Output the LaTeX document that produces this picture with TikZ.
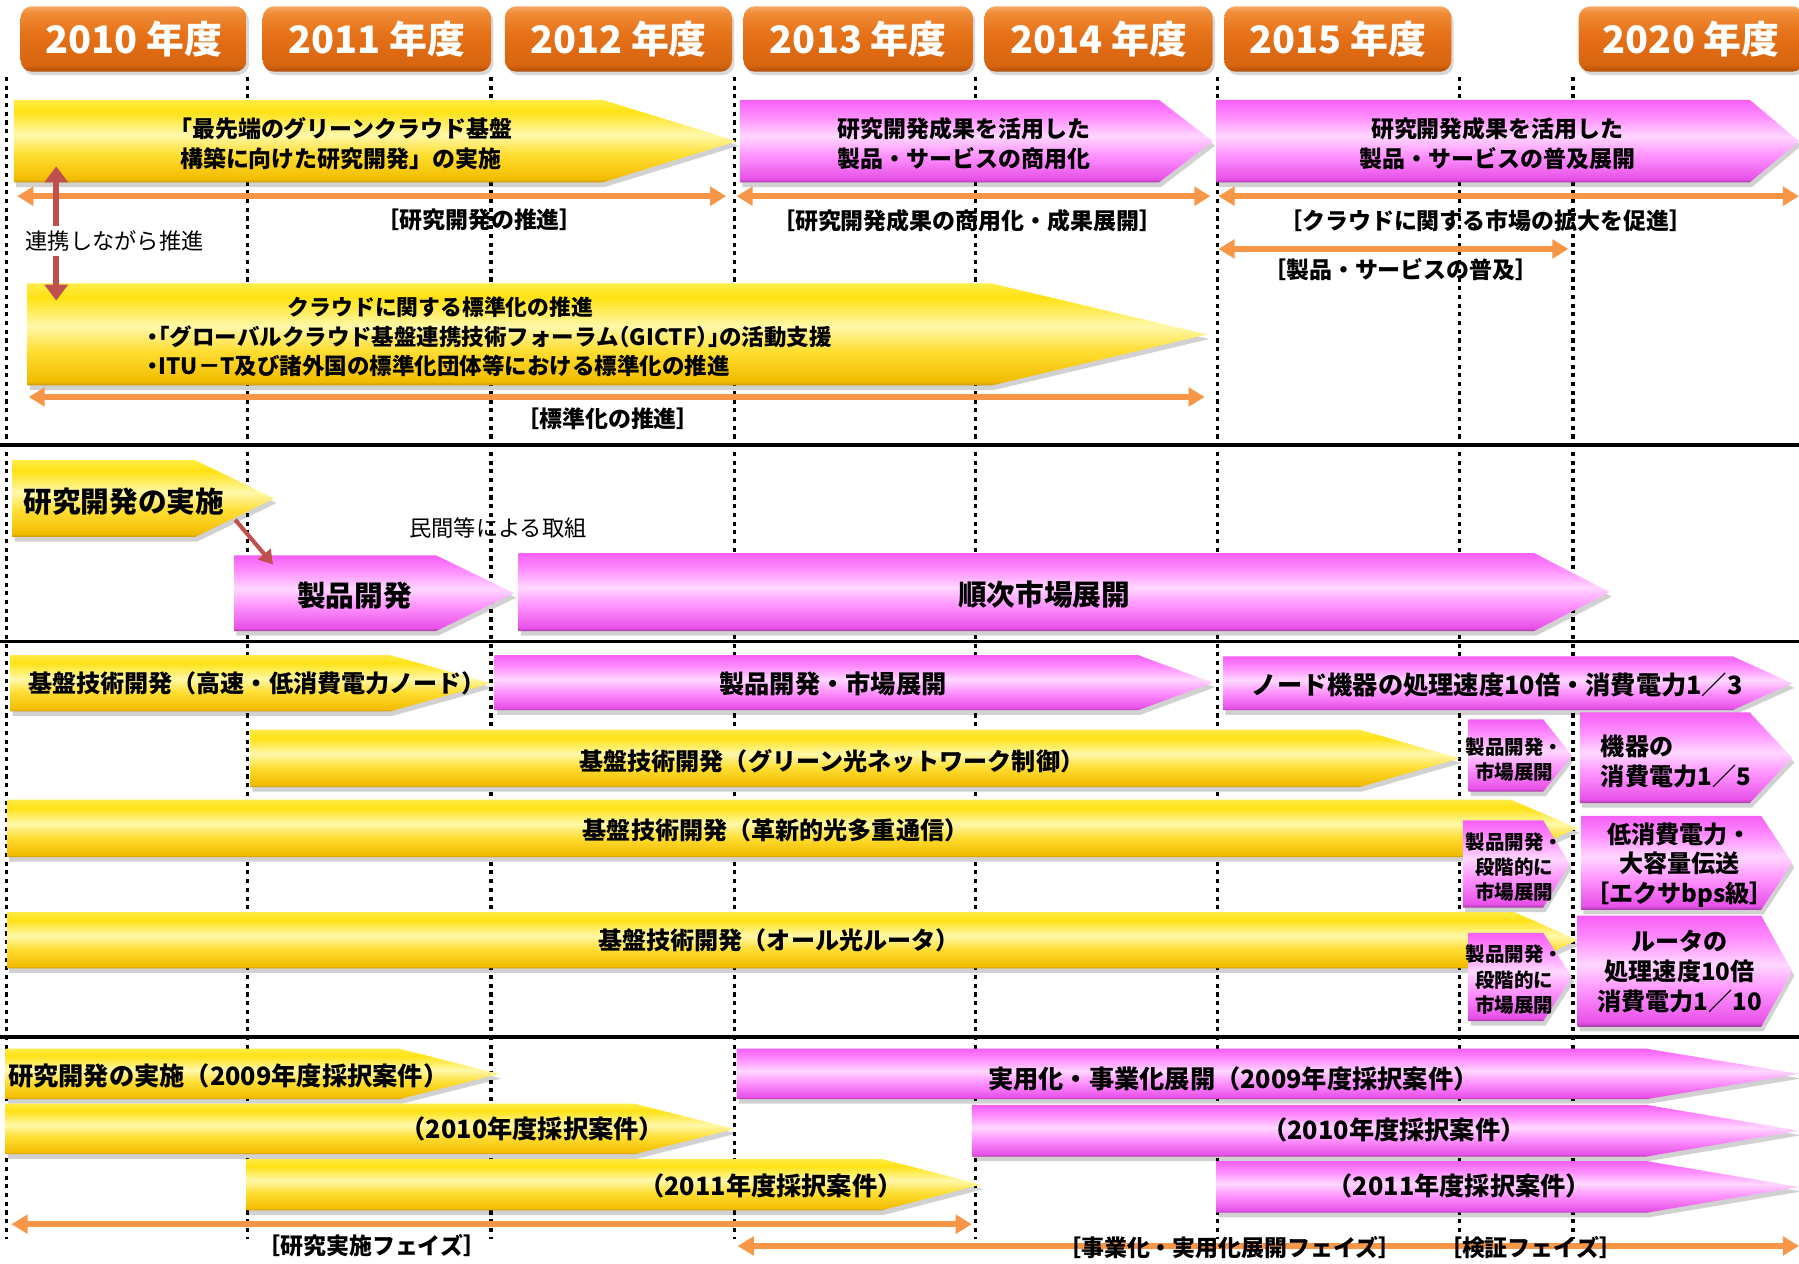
\documentclass[tikz,border=0pt]{standalone}
\usepackage{fontspec}
\setmainfont{Noto Sans CJK JP}
\usetikzlibrary{arrows.meta,shadows}
\definecolor{ylA}{RGB}{200,150,10}
\definecolor{ylB}{RGB}{242,188,0}
\definecolor{ylC}{RGB}{255,222,50}
\definecolor{ylD}{RGB}{255,248,170}
\definecolor{ylE}{RGB}{255,226,20}
\definecolor{ylF}{RGB}{255,236,70}
\definecolor{pkA}{RGB}{160,60,160}
\definecolor{pkB}{RGB}{232,80,232}
\definecolor{pkC}{RGB}{255,150,255}
\definecolor{pkD}{RGB}{255,215,255}
\definecolor{pkE}{RGB}{255,140,255}
\definecolor{pkF}{RGB}{245,95,245}
\definecolor{orA}{RGB}{175,78,10}
\definecolor{orB}{RGB}{215,100,15}
\definecolor{orC}{RGB}{230,115,25}
\definecolor{orD}{RGB}{240,140,55}
\definecolor{orE}{RGB}{246,168,100}
\definecolor{orarr}{RGB}{247,150,70}
\definecolor{redarr}{RGB}{192,80,77}
\pgfdeclareverticalshading{yshade}{100bp}{color(0bp)=(ylA); color(25bp)=(ylA); color(27bp)=(ylB); color(42bp)=(ylC); color(54bp)=(ylD); color(68bp)=(ylE); color(75bp)=(ylF); color(100bp)=(ylF)}
\pgfdeclareverticalshading{pshade}{100bp}{color(0bp)=(pkA); color(25bp)=(pkA); color(27bp)=(pkB); color(42bp)=(pkC); color(53bp)=(pkD); color(65bp)=(pkE); color(75bp)=(pkF); color(100bp)=(pkF)}
\pgfdeclareverticalshading{oshade}{100bp}{color(0bp)=(orA); color(25bp)=(orA); color(30bp)=(orB); color(55bp)=(orC); color(70bp)=(orD); color(75bp)=(orE); color(100bp)=(orE)}
\newcommand{\barrow}[6]{%
  \fill[black,opacity=0.18] ({#2+2},{#5+4}) -- ({#3+2},{#5+4}) -- ({#4+2},{(#5+#6)/2+4}) -- ({#3+2},{#6+4}) -- ({#2+2},{#6+4}) -- cycle;
  \shade[#1] (#2,#5) -- (#3,#5) -- (#4,{(#5+#6)/2}) -- (#3,#6) -- (#2,#6) -- cycle;}
\newcommand{\setfs}[2]{\fontsize{#1}{#2}\selectfont}
\begin{document}
\begin{tikzpicture}[x=0.5pt,y=-0.5pt,
  ya/.style={shading=yshade},
  pa/.style={shading=pshade},
  hdr/.style={shade, shading=oshade, rounded corners=5pt, text=white, font=\bfseries\setfs{16.5}{16}, inner sep=0pt, minimum height=28.5pt, drop shadow={opacity=0.3,shadow xshift=1pt,shadow yshift=-1.5pt}},
  dotl/.style={line width=1.4pt, dash pattern=on 1.8pt off 2pt},
  sepl/.style={line width=1.5pt},
  oarr/.style={draw=orarr, line width=2.5pt, {Triangle[length=7pt,width=8pt]}-{Triangle[length=7pt,width=8pt]}},
  lab/.style={align=center, inner sep=0pt, text=black, font=\bfseries\setfs{10}{13}},
  labc/.style={align=center, inner sep=0pt, text=black, font=\bfseries\setfs{10.5}{13}},
  labs/.style={align=center, inner sep=0pt, text=black, font=\bfseries\setfs{8.5}{11}},
  labd/.style={align=center, inner sep=0pt, text=black, font=\bfseries\setfs{11}{13}},
  labb/.style={align=center, inner sep=0pt, text=black, font=\bfseries\setfs{12.5}{15}},
  brk/.style={inner sep=0pt, text=black, font=\bfseries\setfs{10}{11}},
  nlab/.style={inner sep=0pt, text=black, font=\setfs{9.7}{12}},
]
\clip (0,0) rectangle (1568,1101);
\fill[white] (0,0) rectangle (1568,1101);
% dotted year lines
\foreach \x in {6,216,428,640,850,1061,1272,1371} \draw[dotl] (\x,67) -- (\x,1080);
% separators
\foreach \y in {388,559,904} \draw[sepl] (0,\y) -- (1568,\y);
% section 1 arrows
\barrow{ya}{12}{525}{642}{87}{159}
\barrow{pa}{645}{1010}{1057}{87}{159}
\barrow{pa}{1060}{1525}{1568}{87}{159}
\barrow{ya}{24}{864}{1052}{247}{336}
% section 2
\barrow{ya}{11}{170}{239}{401}{468}
\barrow{pa}{204}{380}{448}{484}{550}
\barrow{pa}{452}{1337}{1403}{482}{550}
% section 3
\barrow{ya}{9}{340}{428}{571}{620}
\barrow{pa}{431}{992}{1057}{571}{619}
\barrow{pa}{1066}{1510}{1562}{572}{619}
\barrow{ya}{218}{1185}{1272}{636}{686}
\barrow{pa}{1280}{1345}{1370}{627}{690}
\barrow{pa}{1377}{1525}{1562}{621}{700}
\barrow{ya}{6}{1317}{1375}{697}{747}
\barrow{pa}{1275}{1345}{1368}{715}{791}
\barrow{pa}{1378}{1535}{1562}{711}{793}
\barrow{ya}{6}{1320}{1375}{795}{844}
\barrow{pa}{1280}{1345}{1370}{813}{890}
\barrow{pa}{1375}{1535}{1562}{798}{895}
% section 4
\barrow{ya}{5}{348}{435}{914}{958}
\barrow{ya}{5}{553}{640}{962}{1006}
\barrow{ya}{215}{768}{855}{1010}{1055}
\barrow{pa}{642}{1435}{1568}{914}{958}
\barrow{pa}{847}{1435}{1568}{963}{1008}
\barrow{pa}{1060}{1435}{1568}{1012}{1057}
% orange span arrows
\draw[oarr] (15,171) -- (633,171);
\draw[oarr] (642,171) -- (1055,171);
\draw[oarr] (1062,171) -- (1568,171);
\draw[oarr] (1062,217) -- (1367,217);
\draw[oarr] (25,346) -- (1050,346);
\draw[oarr] (10,1067) -- (847,1067);
\draw[oarr] (643,1086) -- (1568,1086);
% headers
\node[hdr, minimum width=98.5pt] (h10) at (116.5,34) {2010 年度};
\node[hdr, minimum width=99.5pt] (h11) at (328.5,34) {2011 年度};
\node[hdr, minimum width=99pt] (h12) at (539,34) {2012 年度};
\node[hdr, minimum width=100pt] (h13) at (748,34) {2013 年度};
\node[hdr, minimum width=99.5pt] (h14) at (957.5,34) {2014 年度};
\node[hdr, minimum width=99pt] (h15) at (1166,34) {2015 年度};
\node[hdr, minimum width=98pt] (h20) at (1474,34) {2020 年度};
% section 1 texts
\node[lab] (tA1) at (297,125) {「最先端のグリーンクラウド基盤\\構築に向けた研究開発」の実施};
\node[lab] (tA2) at (840,125) {研究開発成果を活用した\\製品・サービスの商用化};
\node[lab] (tA3) at (1305,125) {研究開発成果を活用した\\製品・サービスの普及展開};
\node[brk] (bA1) at (418,192) {［研究開発の推進］};
\node[brk] (bA2) at (843,192) {［研究開発成果の商用化・成果展開］};
\node[brk] (bA3) at (1295,192) {［クラウドに関する市場の拡大を促進］};
\node[brk] (bA4) at (1221,235) {［製品・サービスの普及］};
\node[lab, font=\bfseries\setfs{9.5}{12.5}] (tA4a) at (384,268) {クラウドに関する標準化の推進};
\node[lab, font=\bfseries\setfs{9.8}{12.5}\addfontfeature{RawFeature=+halt}, align=left, anchor=west] (tA4b) at (128,306) {・「グローバルクラウド基盤連携技術フォーラム（GICTF）」の活動支援\\・ITU－T及び諸外国の標準化団体等における標準化の推進};
\node[brk] (bA5) at (530,365) {［標準化の推進］};
% section 2 texts
\node[labb] (tB1) at (108,437) {研究開発の実施};
\node[labb] (tB2) at (309,519) {製品開発};
\node[labb] (tB3) at (910,518) {順次市場展開};
\node[nlab] (tMin) at (434,460) {民間等による取組};
% section 3 texts
\node[labc] (tC1) at (224,596) {基盤技術開発（高速・低消費電力ノード）};
\node[labd] (tC2) at (726,596) {製品開発・市場展開};
\node[labd] (tC3) at (1305,597) {ノード機器の処理速度10倍・消費電力1／3};
\node[labc] (tC4) at (725,663) {基盤技術開発（グリーン光ネットワーク制御）};
\node[labs] (tC5) at (1320,662) {製品開発・\\市場展開};
\node[labc, align=left, anchor=west] (tC6) at (1395,664) {機器の\\消費電力1／5};
\node[labc] (tC7) at (676,724) {基盤技術開発（革新的光多重通信）};
\node[labs] (tC8) at (1320,756) {製品開発・\\段階的に\\市場展開};
\node[labc] (tC9) at (1464,754) {低消費電力・\\大容量伝送\\［エクサbps級］};
\node[labc] (tC10) at (679,820) {基盤技術開発（オール光ルータ）};
\node[labs] (tC11) at (1320,854) {製品開発・\\段階的に\\市場展開};
\node[labc] (tC12) at (1464,847) {ルータの\\処理速度10倍\\消費電力1／10};
% section 4 texts
\node[labd] (tD1) at (199,938) {研究開発の実施（2009年度採択案件）};
\node[labd] (tD2) at (464,984) {（2010年度採択案件）};
\node[labd] (tD3) at (672,1034) {（2011年度採択案件）};
\node[labd] (tD4) at (1075,940) {実用化・事業化展開（2009年度採択案件）};
\node[labd] (tD5) at (1215,985) {（2010年度採択案件）};
\node[labd] (tD6) at (1272,1034) {（2011年度採択案件）};
\node[brk] (bD1) at (324,1086) {［研究実施フェイズ］};
\node[brk] (bD2) at (1072,1087) {［事業化・実用化展開フェイズ］};
\node[brk] (bD3) at (1334,1087) {［検証フェイズ］};
% red connectors
\coordinate (r1a) at (49,145);
\coordinate (r1b) at (49,262);
\draw[draw=redarr, line width=2.5pt, {Triangle[length=7pt,width=10pt]}-{Triangle[length=7pt,width=10pt]}] (r1a) -- (r1b);
\node[nlab, fill=white, inner sep=2pt] (tRen) at (100,210) {連携しながら推進};
\coordinate (r2a) at (205,453);
\coordinate (r2b) at (238,492);
\draw[draw=redarr, line width=1.8pt, -{Triangle[length=6pt,width=7pt]}] (r2a) -- (r2b);
\end{tikzpicture}
\end{document}
